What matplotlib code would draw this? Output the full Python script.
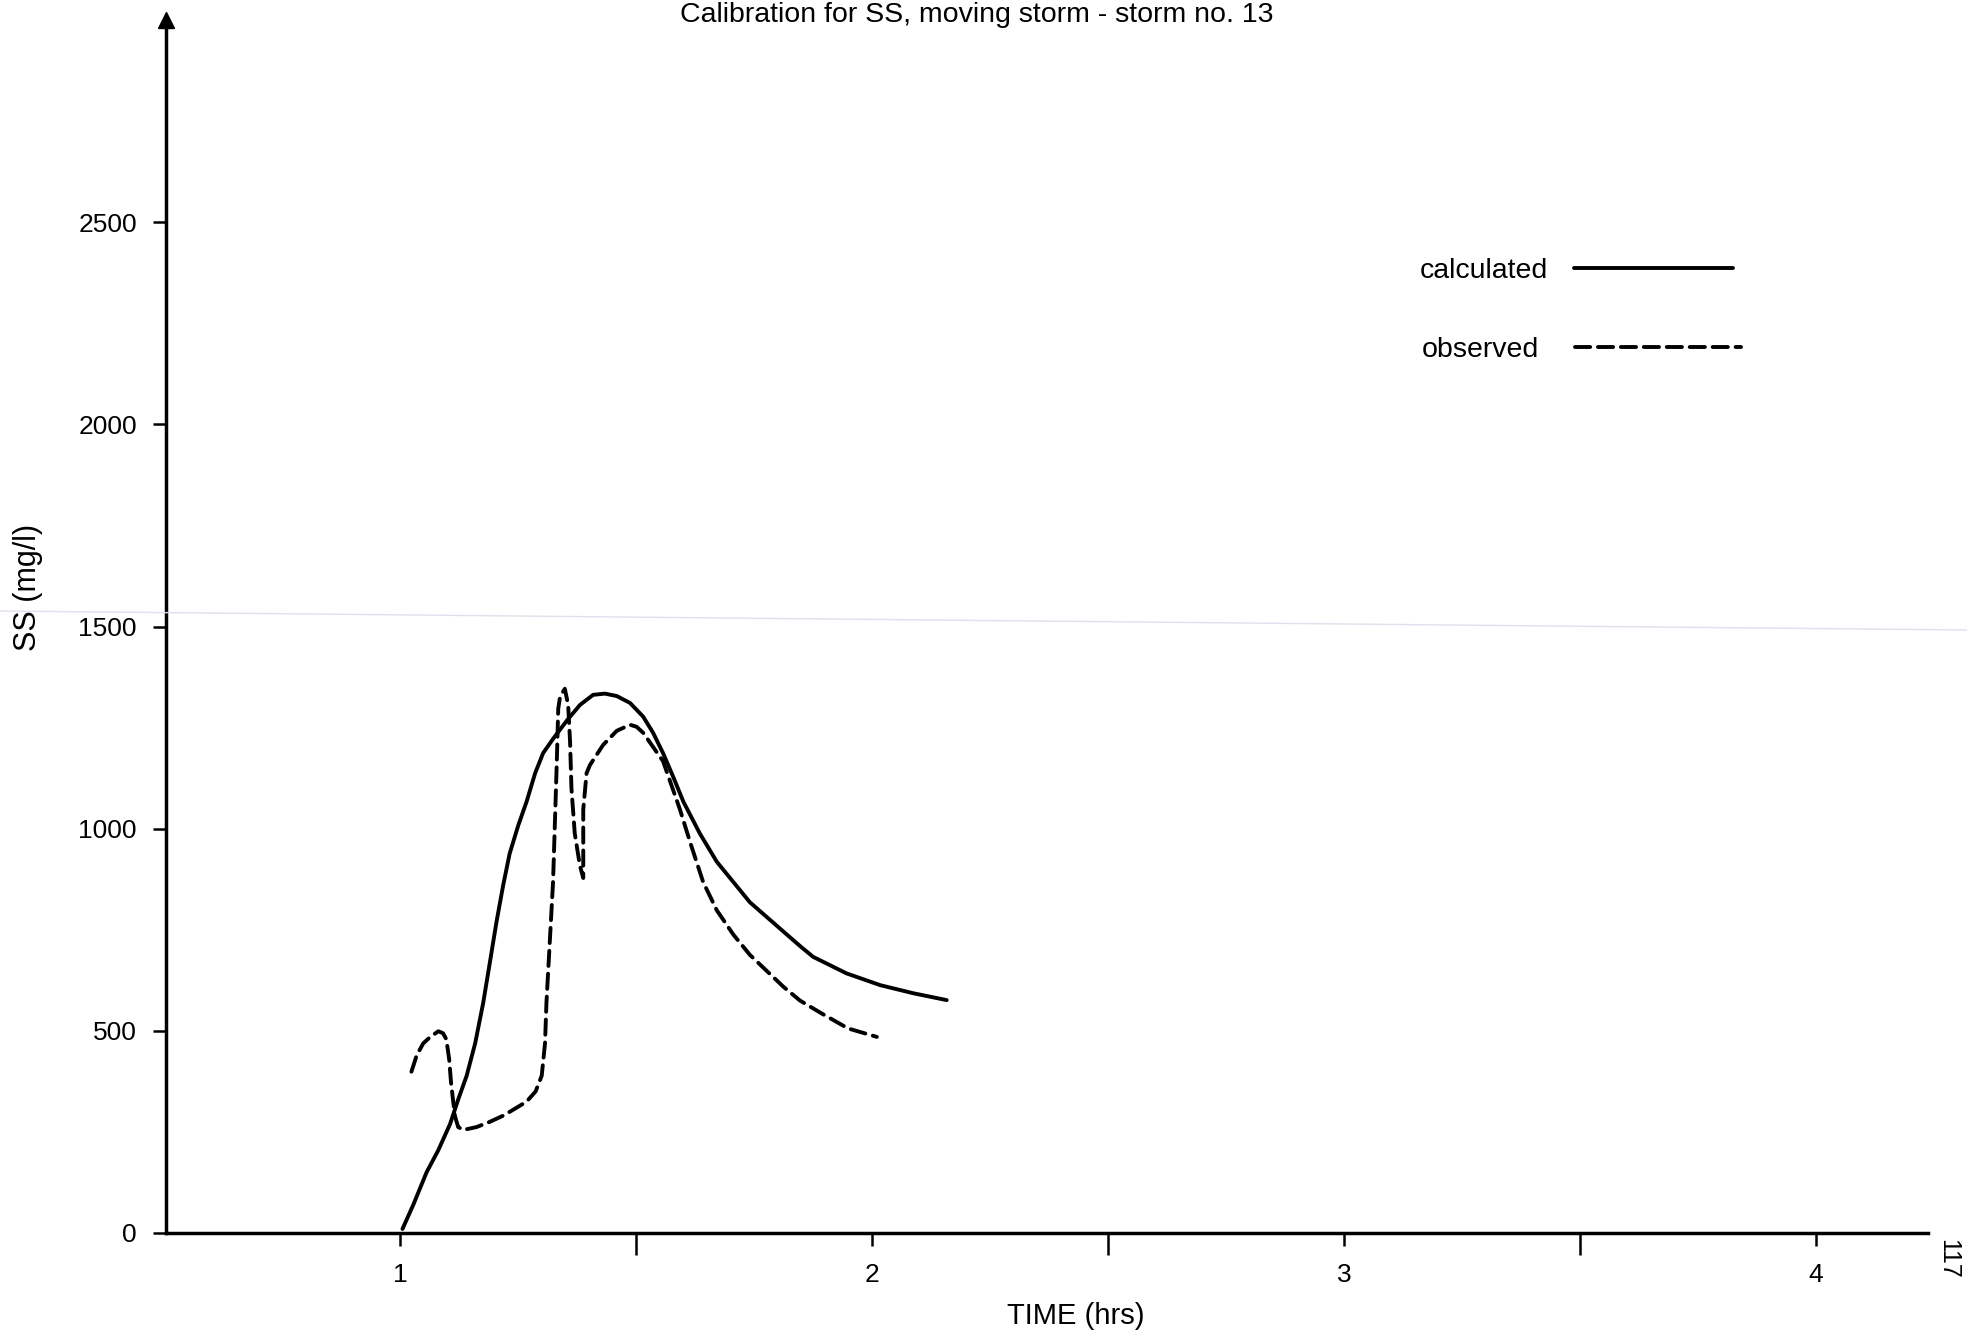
import matplotlib
matplotlib.use("Agg")
import matplotlib.pyplot as plt
from matplotlib.lines import Line2D

plt.rcParams['font.family'] = ['Liberation Sans', 'DejaVu Sans']

# calculated SS curve (time in hrs, SS in mg/l)
calc_t = [1.005, 1.028, 1.056, 1.081, 1.106, 1.123, 1.141, 1.159, 1.176, 1.190,
          1.204, 1.218, 1.232, 1.250, 1.268, 1.286, 1.303, 1.324, 1.353, 1.381,
          1.409, 1.434, 1.459, 1.487, 1.515, 1.536, 1.557, 1.579, 1.600, 1.635,
          1.671, 1.706, 1.741, 1.790, 1.847, 1.875, 1.946, 2.017, 2.087, 2.158]
calc_ss = [10, 70, 150, 205, 270, 330, 389, 469, 569, 668,
           768, 858, 938, 1007, 1067, 1137, 1187, 1222, 1267, 1306,
           1331, 1334, 1328, 1311, 1277, 1237, 1187, 1127, 1067, 988,
           918, 868, 818, 768, 710, 683, 642, 613, 593, 576]

# observed SS curve
obs_t = [1.024, 1.035, 1.049, 1.063, 1.081, 1.091, 1.098, 1.104, 1.108, 1.116,
         1.123, 1.134, 1.162, 1.190, 1.218, 1.247, 1.268, 1.287, 1.300, 1.307,
         1.310, 1.317, 1.324, 1.328, 1.332, 1.335, 1.339, 1.349, 1.356, 1.360,
         1.363, 1.370, 1.381, 1.388, 1.388, 1.395, 1.402, 1.430, 1.459, 1.487,
         1.501, 1.515, 1.557, 1.575, 1.593, 1.614, 1.642, 1.671, 1.706, 1.741,
         1.776, 1.812, 1.847, 1.893, 1.949, 2.010]
obs_ss = [399, 439, 469, 484, 499, 494, 479, 429, 370, 290,
          262, 255, 262, 275, 290, 310, 325, 350, 389, 469,
          569, 718, 868, 1017, 1167, 1297, 1327, 1346, 1306, 1217,
          1100, 988, 908, 878, 1047, 1137, 1157, 1207, 1242, 1257,
          1252, 1237, 1167, 1107, 1047, 968, 868, 798, 738, 688,
          649, 609, 575, 543, 506, 485]

x_major = [1, 2, 3, 4]
x_minor = [1.5, 2.5, 3.5]
y_ticks = [0, 500, 1000, 1500, 2000, 2500]

W, H = 1967, 1332
fig = plt.figure(figsize=(W / 100, H / 100), dpi=100)
ax = fig.add_axes([166 / W, 1 - 1233 / H, (1928 - 166) / W, (1233 - 20) / H])

line_calc, = ax.plot(calc_t, calc_ss, color='black', lw=2.8, label='calculated',
                     solid_capstyle='round', solid_joinstyle='round')
line_obs, = ax.plot(obs_t, obs_ss, color='black', lw=2.8, dashes=(3.9, 2.0),
                    label='observed', dash_capstyle='round',
                    dash_joinstyle='round')

ax.set_xlim(0.504, 4.237)
ax.set_ylim(0, 3000)

for s in ['top', 'right']:
    ax.spines[s].set_visible(False)
for s in ['left', 'bottom']:
    ax.spines[s].set_linewidth(2.5)

# arrow head on the y axis
ax.plot(0, 1, marker='^', ms=11, color='black', transform=ax.transAxes,
        clip_on=False)

ax.set_yticks(y_ticks)
ax.set_xticks(x_major)
ax.set_xticks(x_minor, minor=True)
ax.tick_params(axis='y', direction='out', length=9.5, width=1.8, pad=11.5,
               labelsize=19)
ax.tick_params(axis='x', which='major', direction='out', length=9, width=1.8,
               pad=12.5, labelsize=19)
ax.tick_params(axis='x', which='minor', direction='out', length=16, width=1.8)

# two single-entry legends so both labels start at the same x
leg_kw = dict(loc='upper left', bbox_transform=fig.transFigure, frameon=False,
              markerfirst=False, fontsize=20.5, borderpad=0, borderaxespad=0)
leg1 = ax.legend(handles=[line_calc], bbox_to_anchor=(1420 / W, 1 - 258 / H),
                 handletextpad=0.9, handlelength=5.6, **leg_kw)
ax.add_artist(leg1)
ax.legend(handles=[line_obs], bbox_to_anchor=(1422 / W, 1 - 337 / H),
          handletextpad=1.25, handlelength=5.85, **leg_kw)

fig.text(977 / W, 1 - 22 / H, 'Calibration for SS, moving storm - storm no. 13',
         ha='center', va='baseline', fontsize=20.5)
fig.text(1076 / W, 1 - 1316 / H, 'TIME (hrs)', ha='center', va='center',
         fontsize=21)
fig.text(28 / W, 1 - 587 / H, 'SS (mg/l)', ha='center', va='center',
         rotation=90, fontsize=22)
fig.text(1948 / W, 1 - 1259 / H, '117', ha='center', va='center',
         rotation=-90, fontsize=18)

# faint scanner streak across the page
fig.add_artist(Line2D([0, 1], [1 - 611 / H, 1 - 630 / H], transform=fig.transFigure,
                      color='#dde1ec', lw=1))

fig.savefig('out.png', dpi=100)
